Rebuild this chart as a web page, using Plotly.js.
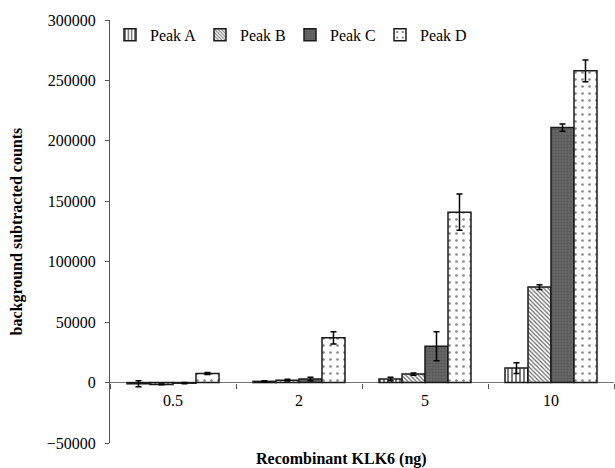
<!DOCTYPE html>
<html><head><meta charset="utf-8">
<script src="https://cdn.plot.ly/plotly-3.0.1.min.js"></script>
<style>body{margin:0}#chart{width:615px;height:468px}</style>
</head><body><div id="chart"></div>
<script>
const categories = ['0.5', '2', '5', '10'];
const peakA = [-1000, 1000, 3000, 12000];
const peakAErr = [2500, 500, 1500, 4500];
const peakB = [-1500, 2000, 7000, 79000];
const peakBErr = [300, 800, 1000, 2000];
const peakC = [-500, 3000, 30000, 211000];
const peakCErr = [500, 1500, 12000, 3000];
const peakD = [7500, 37000, 141000, 258000];
const peakDErr = [800, 5000, 15000, 9000];
const seriesNames = ['Peak A', 'Peak B', 'Peak C', 'Peak D'];

const outline = {color: '#1a1a1a', width: 1.5};
function errs(a){ return {type: 'data', array: a, visible: true, color: '#000', thickness: 1.5, width: 3}; }

const traces = [
  {type: 'bar', name: seriesNames[0], x: categories, y: peakA, error_y: errs(peakAErr),
   marker: {color: '#ffffff', line: outline, pattern: {shape: '|', fgcolor: '#222', bgcolor: '#ffffff', size: 4, solidity: 0.3}}},
  {type: 'bar', name: seriesNames[1], x: categories, y: peakB, error_y: errs(peakBErr),
   marker: {color: '#ffffff', line: outline, pattern: {shape: '\\', fgcolor: '#666', bgcolor: '#ffffff', size: 3, solidity: 0.4}}},
  {type: 'bar', name: seriesNames[2], x: categories, y: peakC, error_y: errs(peakCErr),
   marker: {color: '#646464', line: outline, pattern: {shape: '.', fgcolor: '#555555', bgcolor: '#686868', size: 3, solidity: 0.4}}},
  {type: 'bar', name: seriesNames[3], x: categories, y: peakD, error_y: errs(peakDErr),
   marker: {color: '#ffffff', line: outline, pattern: {shape: '.', fgcolor: '#888', bgcolor: '#ffffff', size: 7, solidity: 0.12}}}
];

const fam = 'Liberation Serif, Times New Roman, serif';
const font = {family: fam, color: '#000', size: 16};

const layout = {
  width: 615, height: 468,
  margin: {l: 110, r: 1, t: 20, b: 25},
  paper_bgcolor: '#fff', plot_bgcolor: '#fff',
  font: font,
  showlegend: true,
  barmode: 'group', bargap: 0.27, bargroupgap: 0,
  legend: {orientation: 'h', x: 0.0, y: 1.005, xanchor: 'left', yanchor: 'top',
           font: {family: fam, size: 16, color: '#000'}, itemwidth: 30, tracegroupgap: 0,
           entrywidth: 45, entrywidthmode: 'pixels',
           bgcolor: 'rgba(0,0,0,0)'},
  xaxis: {type: 'category', anchor: 'free', position: 60/423, showline: false,
          ticks: 'outside', tickson: 'boundaries', ticklen: 5, tickcolor: '#555',
          ticklabelstandoff: 6,
          showgrid: false, zeroline: false, tickfont: {family: fam, size: 16},
          title: {text: ''}},
  yaxis: {range: [-50000, 300000], dtick: 50000, showline: true, linecolor: '#555', linewidth: 1,
          ticks: 'outside', ticklen: 4, tickcolor: '#555', showgrid: false,
          ticklabelstandoff: 6,
          zeroline: true, zerolinecolor: '#777', zerolinewidth: 1,
          tickfont: {family: fam, size: 16}, tickformat: 'd', title: {text: ''}},
  annotations: [
    {text: '<b>Recombinant KLK6 (ng)</b>', xref: 'paper', yref: 'paper', x: 0.46, y: -16/423,
     xanchor: 'center', yanchor: 'middle', showarrow: false, font: {family: fam, size: 16}},
    {text: '<b>background subtracted counts</b>', xref: 'paper', yref: 'paper', x: -0.1865, y: 0.5,
     textangle: -90, xanchor: 'center', yanchor: 'middle', showarrow: false, font: {family: fam, size: 16}}
  ]
};

Plotly.newPlot('chart', traces, layout, {displayModeBar: false, staticPlot: true});
</script></body></html>
